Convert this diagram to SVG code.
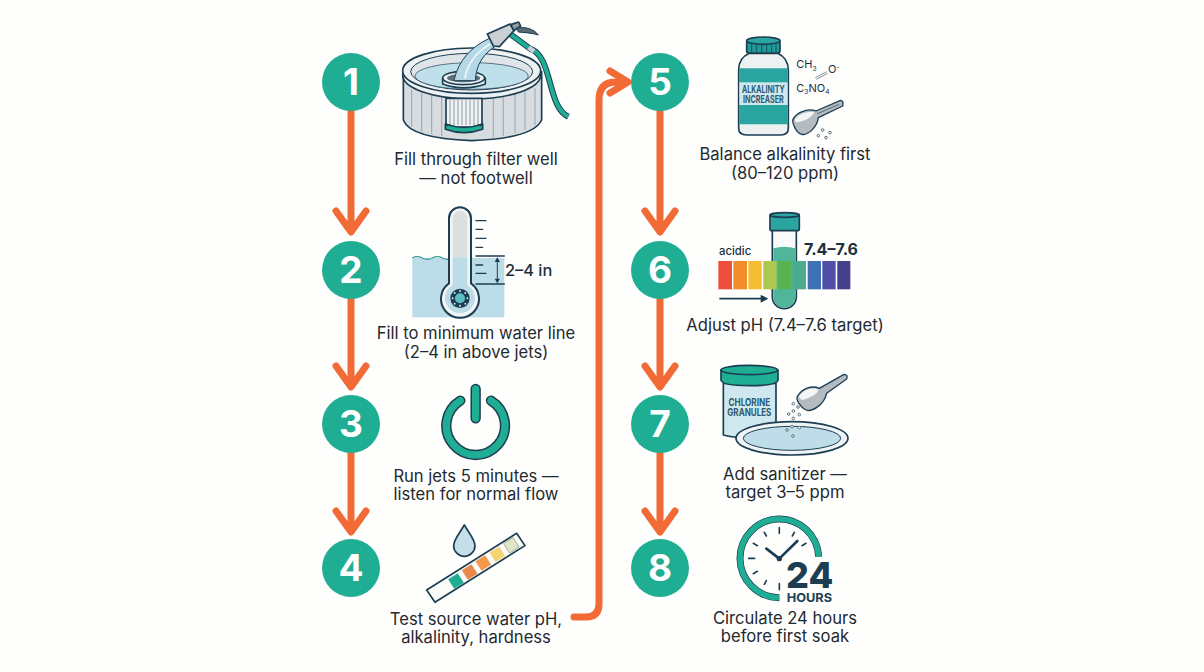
<svg xmlns="http://www.w3.org/2000/svg" width="1204" height="672" viewBox="0 0 1204 672">
<style>
text{font-family:Inter,"Liberation Sans",sans-serif}
.lb{font-size:16.6px;fill:#1e2a30;text-anchor:middle}
.n{font-size:37px;font-weight:700;fill:#fff;text-anchor:middle}
.c{fill:#1fae94}
.a{fill:none;stroke:#f26a36;stroke-width:7;stroke-linecap:round;stroke-linejoin:round}
.o{stroke:#1c3d52;stroke-width:5;stroke-linejoin:round}
.t{stroke:#1c3d52;stroke-width:4;fill:none;stroke-linecap:round}
.dot{fill:#f4f6f6;stroke:#5c7480;stroke-width:3}
</style>
<rect width="1204" height="672" fill="#fefefd"/>
<g id="connectors">
<path class="a" d="M351 110V231M336 211L351 232L366 211"/>
<path class="a" d="M351 298V386M336 366L351 387L366 366"/>
<path class="a" d="M351 452V531M336 511L351 532L366 511"/>
<path class="a" d="M660 110V231M645 211L660 232L675 211"/>
<path class="a" d="M660 298V386M645 366L660 387L675 366"/>
<path class="a" d="M660 452V531M645 511L660 532L675 511"/>
<path class="a" d="M574 617H586Q599 617 599 604V100Q599 82 616 82H626M610 71L628 82L610 93"/>
</g>
<g id="node1">
<circle class="c" cx="351" cy="82" r="29"/><text class="n" x="351" y="95">1</text>
<g transform="translate(390 10) scale(.3333)">
<path class="o" fill="#d6dcdf" d="M40 185V330Q60 385 245 392Q430 385 455 330V185Z"/>
<path style="stroke:#7a8c95;stroke-width:2;fill:none" d="M65 240V350M95 250V365M125 255V372M155 260V378M310 262V382M340 258V378M375 252V370M405 245V360M435 235V345"/>
<ellipse class="o" cx="245" cy="195" rx="207" ry="72" fill="#eef1f2"/>
<ellipse class="o" cx="245" cy="182" rx="207" ry="68" fill="#eef1f2"/>
<ellipse cx="245" cy="185" rx="183" ry="55" fill="#dfe4e6" stroke="#1c3d52" stroke-width="3"/>
<ellipse cx="245" cy="198" rx="170" ry="40" fill="#bfe0ea" stroke="#1c3d52" stroke-width="2"/>
<path class="o" fill="#f1f3f4" d="M168 265H276V352H168Z"/>
<path style="stroke:#8a9aa2;stroke-width:3" d="M180 268V345M192 268V345M204 268V345M216 268V345M228 268V345M240 268V345M252 268V345M264 268V345"/>
<path class="o" fill="#1fae94" d="M166 342Q222 362 278 342V358Q222 378 166 358Z"/>
<path class="o" fill="#e9edee" d="M158 204V222Q222 245 286 222V204Z"/>
<ellipse class="o" cx="221" cy="204" rx="63" ry="20" fill="#eef1f2"/>
<ellipse cx="221" cy="204" rx="50" ry="13" fill="#5c6e78"/>
<path d="M192 212C205 150 245 110 298 85L322 105C280 130 258 165 256 212Z" fill="#b5d8e6" stroke="#1c3d52" stroke-width="3"/>
<path d="M225 205C232 160 258 128 300 102" fill="none" stroke="#e8f4f8" stroke-width="6"/>
<path d="M358 70L420 116C490 140 470 290 535 320" fill="none" stroke="#1c3d52" stroke-width="18"/>
<path d="M358 70L420 116C490 140 470 290 535 320" fill="none" stroke="#1fae94" stroke-width="12"/>
<path d="M416 112L432 124" stroke="#c9d0d4" stroke-width="14"/>
<path class="o" fill="#c9d0d4" d="M292 72L360 42L372 62L328 110L310 108Z"/>
<path class="o" fill="#8d9aa2" d="M362 44L386 36L392 48L372 62Z"/>
<path d="M380 54C405 50 430 55 445 75C425 68 400 68 385 66Z" fill="#5a6a73" stroke="#1c3d52" stroke-width="3"/>
</g>
<text class="lb" x="476" y="165">Fill through filter well</text><text class="lb" x="476" y="184">— not footwell</text>
</g>
<g id="node2">
<circle class="c" cx="351" cy="270" r="29"/><text class="n" x="351" y="283">2</text>
<g transform="translate(400 200) scale(.3333)">
<rect x="37" y="174" width="276" height="178" fill="#bcdce8"/>
<path d="M37 174q15 -8 30 0t30 0t30 0t30 0t30 0t30 0" fill="none" stroke="#3a9a94" stroke-width="4"/>
<path class="o" fill="#f3f5f5" d="M147 250V55A33 33 0 0 1 213 55V250A57 57 0 1 1 147 250Z" style="stroke-width:6"/>
<path fill="#dcdfe0" d="M158 172V55A22 22 0 0 1 202 55V172Z"/>
<path fill="#bcdce8" d="M158 172H202V255A45 45 0 1 1 158 255Z"/>
<circle cx="180" cy="295" r="29" fill="#1c3d52"/><circle cx="180" cy="295" r="15" fill="#5cc0c0"/>
<g fill="#cfe7ee"><circle cx="180" cy="273" r="3"/><circle cx="180" cy="317" r="3"/><circle cx="158" cy="295" r="3"/><circle cx="202" cy="295" r="3"/><circle cx="164" cy="279" r="3"/><circle cx="196" cy="279" r="3"/><circle cx="164" cy="311" r="3"/><circle cx="196" cy="311" r="3"/></g>
<path class="t" d="M228 62H258M228 88H248M228 115H258M228 142H248M228 195H248M228 220H258M228 168H313M228 252H313"/>
<path d="M292 176V244" stroke="#1c3d52" stroke-width="3"/><path d="M284 186L292 172L300 186ZM284 236L292 250L300 236Z" fill="#1c3d52"/>
<text x="315" y="228" font-size="49" font-weight="500" fill="#1c2f3a">2–4 in</text>
</g>
<text class="lb" x="476" y="339">Fill to minimum water line</text><text class="lb" x="476" y="358">(2–4 in above jets)</text>
</g>
<g id="node3">
<circle class="c" cx="351" cy="424" r="29"/><text class="n" x="351" y="437">3</text>
<g transform="translate(380 380) scale(.3333)">
<path d="M241 62A88 88 0 1 0 333 62M287 27V115" fill="none" stroke="#1c3d52" stroke-width="31" stroke-linecap="round"/>
<path d="M241 62A88 88 0 1 0 333 62M287 27V115" fill="none" stroke="#1fae94" stroke-width="22" stroke-linecap="round"/>
</g>
<text class="lb" x="476" y="482">Run jets 5 minutes —</text><text class="lb" x="476" y="500">listen for normal flow</text>
</g>
<g id="node4">
<circle class="c" cx="351" cy="568" r="29"/><text class="n" x="351" y="581">4</text>
<g transform="translate(380 380) scale(.3333)">
<path class="o" fill="#c4dfe9" d="M253 435C235 465 221 480 221 497A32 32 0 0 0 285 497C285 480 271 465 253 435Z"/>
<path class="o" fill="#fbfbf8" d="M140 630L410 460L435 497L165 667Z"/>
<g transform="translate(228 603) rotate(-32)"><rect x="-17" y="-17" width="34" height="34" fill="#1fae94"/></g>
<g transform="translate(269 576) rotate(-32)"><rect x="-17" y="-17" width="34" height="34" fill="#e98a4a"/></g>
<g transform="translate(310 549) rotate(-32)"><rect x="-17" y="-17" width="34" height="34" fill="#f29a4a"/></g>
<g transform="translate(352 523) rotate(-32)"><rect x="-17" y="-17" width="34" height="34" fill="#f4d473"/></g>
<g transform="translate(394 496) rotate(-32)"><rect x="-17" y="-17" width="34" height="34" fill="#e1e6c6" stroke="#8a9a8a" stroke-width="2"/></g>
</g>
<text class="lb" x="476" y="625">Test source water pH,</text><text class="lb" x="476" y="643">alkalinity, hardness</text>
</g>
<g id="node5">
<circle class="c" cx="660" cy="82" r="29"/><text class="n" x="660" y="95">5</text>
<g transform="translate(700 25) scale(.3333)">
<path class="o" fill="#eef1f2" d="M148 85C125 95 116 110 116 135V310Q116 330 140 330H242Q265 330 265 310V135C265 110 255 95 233 85Z"/>
<path fill="#2ba5a0" d="M118 130H263V298H118Z"/>
<rect x="118" y="172" width="145" height="68" fill="#cfe7ee"/>
<rect class="o" x="140" y="46" width="100" height="38" rx="6" fill="#1f9c98"/>
<path d="M155 58V82M170 60V83M185 60V83M200 60V83M215 60V83M228 58V82" stroke="#1c3d52" stroke-width="2.5"/>
<ellipse class="o" cx="190" cy="47" rx="50" ry="11" fill="#2ba5a0"/>
<text x="190" y="204" font-size="31" font-weight="700" fill="#2b5a72" text-anchor="middle" textLength="128" lengthAdjust="spacingAndGlyphs">ALKALINITY</text>
<text x="190" y="234" font-size="31" font-weight="700" fill="#2b5a72" text-anchor="middle" textLength="122" lengthAdjust="spacingAndGlyphs">INCREASER</text>
<text x="289" y="130" font-size="33" fill="#1c2f3a">CH<tspan font-size="20" dy="8">3</tspan></text>
<text x="384" y="144" font-size="33" fill="#1c2f3a">O<tspan font-size="20" dy="-10">-</tspan></text>
<path d="M346 158L380 140M349 163L383 145" stroke="#6b7b84" stroke-width="2.5"/>
<text x="289" y="200" font-size="33" fill="#1c2f3a">C<tspan font-size="20" dy="8">3</tspan><tspan dy="-8">NO</tspan><tspan font-size="20" dy="8">4</tspan></text>
<path class="o" fill="#b4bcc1" style="stroke-width:4" d="M278 285C290 258 330 250 348 258L422 226Q432 228 428 243L355 278C352 305 325 332 305 328C290 325 278 300 278 285Z"/>
<path fill="#f4f6f6" d="M284 285C295 265 325 258 343 262C335 280 305 292 288 292Z"/>
<path d="M352 266L418 238" stroke="#1c3d52" stroke-width="2"/>
<circle class="dot" cx="355" cy="332" r="4"/><circle class="dot" cx="368" cy="315" r="4"/><circle class="dot" cx="378" cy="338" r="4"/><circle class="dot" cx="390" cy="323" r="4"/>
</g>
<text class="lb" x="785" y="160">Balance alkalinity first</text><text class="lb" x="785" y="179">(80–120 ppm)</text>
</g>
<g id="node6">
<circle class="c" cx="660" cy="270" r="29"/><text class="n" x="660" y="283">6</text>
<g transform="translate(700 200) scale(.3333)">
<path class="o" fill="#f8fafa" d="M217 90V290A36 36 0 0 0 289 290V90Z"/>
<path fill="#4fb59b" d="M220 145Q252 135 286 145V290A33 33 0 0 1 220 290Z"/>
<rect x="55" y="183" width="41" height="85" fill="#ef4e3a"/>
<rect x="100" y="183" width="41" height="85" fill="#f28c28"/>
<rect x="145" y="183" width="40" height="85" fill="#f6bd33"/>
<rect x="190" y="183" width="40" height="85" fill="#aec84e"/>
<rect x="235" y="183" width="39" height="85" fill="#58b44f"/>
<rect x="278" y="183" width="40" height="85" fill="#4bac8d"/>
<rect x="323" y="183" width="40" height="85" fill="#3f72b5"/>
<rect x="367" y="183" width="40" height="85" fill="#4f4fa8"/>
<rect x="412" y="183" width="39" height="85" fill="#463f8c"/>
<rect class="o" x="210" y="44" width="88" height="48" rx="6" fill="#2ba5a0"/>
<ellipse class="o" cx="254" cy="45" rx="44" ry="7" fill="#2ba5a0"/>
<text x="57" y="165" font-size="34" font-weight="500" fill="#1c2f3a">acidic</text>
<text x="312" y="165" font-size="48" font-weight="700" fill="#1c2f3a">7.4–7.6</text>
<path d="M58 296H190" stroke="#1c3d52" stroke-width="5"/><path d="M182 284L205 296L182 308Z" fill="#1c3d52"/>
</g>
<text class="lb" x="785" y="331">Adjust pH (7.4–7.6 target)</text>
</g>
<g id="node7">
<circle class="c" cx="660" cy="424" r="29"/><text class="n" x="660" y="437">7</text>
<g transform="translate(700 355) scale(.3333)">
<path class="o" fill="#cfe7ee" d="M70 85V240Q110 252 228 250V85Z"/>
<path class="o" fill="#1fae94" d="M63 45V75Q65 92 148 92Q232 92 234 75V45Z"/>
<ellipse class="o" cx="148" cy="45" rx="85" ry="14" fill="#1fae94"/>
<text x="148" y="152" font-size="31" font-weight="700" fill="#2b5a72" text-anchor="middle" textLength="125" lengthAdjust="spacingAndGlyphs">CHLORINE</text>
<text x="148" y="182" font-size="31" font-weight="700" fill="#2b5a72" text-anchor="middle" textLength="132" lengthAdjust="spacingAndGlyphs">GRANULES</text>
<ellipse class="o" cx="276" cy="250" rx="168" ry="50" fill="#f0f3f4"/>
<ellipse cx="276" cy="250" rx="146" ry="36" fill="#bfdde8" stroke="#1c3d52" stroke-width="3"/>
<path class="o" fill="#b4bcc1" style="stroke-width:4" d="M292 125C305 100 335 90 358 100L432 58Q445 58 440 72L380 115C372 150 335 172 318 165C300 155 288 135 292 125Z"/>
<path fill="#f4f6f6" d="M296 125C310 102 340 95 356 104C350 120 325 130 305 135Z"/>
<circle class="dot" cx="280" cy="146" r="4"/><circle class="dot" cx="294" cy="156" r="4"/><circle class="dot" cx="280" cy="168" r="4"/><circle class="dot" cx="266" cy="177" r="4"/><circle class="dot" cx="298" cy="179" r="4"/><circle class="dot" cx="280" cy="190" r="4"/><circle class="dot" cx="276" cy="215" r="4"/><circle class="dot" cx="298" cy="218" r="4"/><circle class="dot" cx="261" cy="225" r="4"/><circle class="dot" cx="279" cy="243" r="4"/>
</g>
<text class="lb" x="785" y="480">Add sanitizer —</text><text class="lb" x="785" y="498">target 3–5 ppm</text>
</g>
<g id="node8">
<circle class="c" cx="660" cy="568" r="29"/><text class="n" x="660" y="581">8</text>
<g transform="translate(700 505) scale(.3333)">
<path d="M238 278A118 118 0 1 1 356 155" fill="none" stroke="#1c3d52" stroke-width="21"/>
<path d="M238 278A118 118 0 1 1 356 155" fill="none" stroke="#1fae94" stroke-width="17"/>
<path class="t" style="stroke-width:5" d="M238 68V85M238 236V254M146 160H164M193 82L199 93M283 82L277 93M160 115L172 122M318 115L306 122M160 206L172 199M193 238L199 227"/>
<path d="M199 131L238 161L292 108" fill="none" stroke="#1c3d52" stroke-width="8" stroke-linecap="round" stroke-linejoin="round"/>
<circle cx="238" cy="161" r="8" fill="#1c3d52"/>
<text x="329" y="250" font-size="108" font-weight="800" fill="#1c3d52" text-anchor="middle">24</text>
<text x="328" y="291" font-size="37" font-weight="700" fill="#1c3d52" text-anchor="middle" textLength="136" lengthAdjust="spacingAndGlyphs">HOURS</text>
</g>
<text class="lb" x="785" y="624">Circulate 24 hours</text><text class="lb" x="785" y="642">before first soak</text>
</g>
</svg>
